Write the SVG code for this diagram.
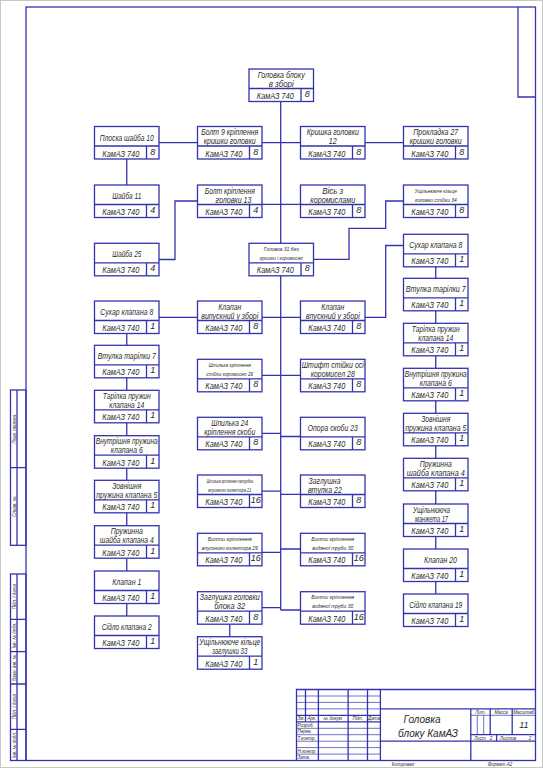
<svg xmlns="http://www.w3.org/2000/svg" xmlns:xlink="http://www.w3.org/1999/xlink" width="543" height="768" viewBox="0 0 543 768">
<style>
.ln{fill:none;stroke:#3333b0;stroke-width:1.3}
.th{fill:none;stroke:#3333b0;stroke-width:0.7}
.cn{fill:none;stroke:#3333b0;stroke-width:1.3}
text{font-family:'Liberation Sans',Arial,sans-serif;font-style:italic;fill:#2a2a2a}
.nm{font-size:9px;text-anchor:middle}
.sm{font-size:5.5px;text-anchor:middle}
.km{font-size:9px;text-anchor:middle}
.q{font-size:9px;text-anchor:middle}
.tb{font-size:4.5px}
.tc{font-size:4.5px;text-anchor:middle}
</style>
<defs>
<g id="bx"><rect class="ln" x="0" y="0" width="64.5" height="32.5"/><path class="ln" d="M0 19.5H64.5M52 19.5V32.5"/></g>
</defs>
<rect x="0.5" y="0.5" width="542" height="767" fill="#fff" stroke="#c8c8c8" stroke-width="1"/>
<g id="frame">
<rect class="ln" x="26" y="7" width="509.5" height="753.5"/>
<path class="ln" d="M518 7V97H535.5"/>
<rect class="ln" x="10.5" y="390" width="15.5" height="155.3"/>
<path class="ln" d="M17 390V545.3M10.5 467.7H26"/>
<rect class="ln" x="10.5" y="574" width="15.5" height="186.5"/>
<path class="ln" d="M17 574V760.5M10.5 619.3H26M10.5 651.7H26M10.5 684H26M10.5 729.3H26"/>
<text class="tc" transform="translate(15.5,428.8) rotate(-90)">Перв. примен.</text>
<text class="tc" transform="translate(15.5,506.5) rotate(-90)">Справ. №</text>
<text class="tc" transform="translate(15.5,596.6) rotate(-90)">Підп. і дата</text>
<text class="tc" transform="translate(15.5,635.5) rotate(-90)">Інв. № дубл.</text>
<text class="tc" transform="translate(15.5,667.8) rotate(-90)">Взам. інв. №</text>
<text class="tc" transform="translate(15.5,706.6) rotate(-90)">Підп. і дата</text>
<text class="tc" transform="translate(15.5,745) rotate(-90)">Інв. № подл.</text>
</g>
<g id="titleblock">
<path class="ln" d="M296.5 760.5V689.5H535.5"/>
<path class="ln" d="M305.5 689.5V721.8M318.4 689.5V760.5M348.1 689.5V760.5M367.5 689.5V760.5M380.4 689.5V760.5"/>
<path class="th" d="M296.5 696H380.4M296.5 702.4H380.4M296.5 708.9H380.4M296.5 728.3H380.4M296.5 734.7H380.4M296.5 741.2H380.4M296.5 747.6H380.4M296.5 754.1H380.4"/>
<path class="ln" d="M296.5 715.3H380.4M296.5 721.8H380.4"/>
<path class="ln" d="M380.4 708.9H535.5M380.4 741.2H535.5M470.8 708.9V760.5M470.8 734.7H535.5M490.2 708.9V734.7M512.2 708.9V734.7M496.6 734.7V741.2"/>
<path class="th" d="M470.8 715.3H535.5M477.3 715.3V734.7M483.7 715.3V734.7"/>
<text class="tc" x="301" y="720.3">Зм.</text>
<text class="tc" x="312" y="720.3">Арк.</text>
<text class="tc" x="333.2" y="720.3">№ докум.</text>
<text class="tc" x="357.8" y="720.3">Підп.</text>
<text class="tc" x="374" y="720.3">Дата</text>
<text class="tb" x="297.5" y="726.8">Розроб.</text>
<text class="tb" x="297.5" y="733.2">Перев.</text>
<text class="tb" x="297.5" y="739.7">Т.контр.</text>
<text class="tb" x="297.5" y="752.6">Н.контр.</text>
<text class="tb" x="297.5" y="759">Затв.</text>
<text x="422" y="723" style="font-size:10px;text-anchor:middle">Головка</text>
<text x="428" y="737" style="font-size:10px;text-anchor:middle">блоку КамАЗ</text>
<text class="tc" x="480.5" y="713.8">Лит.</text>
<text class="tc" x="501.2" y="713.8">Масса</text>
<text class="tc" x="523.8" y="713.8">Масштаб</text>
<text x="523.8" y="728" style="font-size:9px;text-anchor:middle">11</text>
<text class="tc" x="480" y="739.8">Лист</text>
<text class="tc" x="491" y="739.8">2</text>
<text class="tc" x="508" y="739.8">Листов</text>
<text class="tc" x="530" y="739.8">2</text>
<text class="tc" x="403" y="766.3">Копировал</text>
<text class="tc" x="500" y="766.3">Формат  А2</text>
</g>
<g id="connectors">
<path class="cn" d="M280.7 101.5V243.3M280.7 275.8V610"/>
<path class="cn" d="M159 142.7H197.5M262 142.7H300.5M365 142.7H403.5"/>
<path class="cn" d="M126.75 159V185"/>
<path class="cn" d="M197.5 201H175V259.5H159M262 204.3H300.5"/>
<path class="cn" d="M403.5 201H385.7V228.3H349V259.3H313.5"/>
<path class="cn" d="M159 317.3H197.5M262 317.3H300.5M365 317.3H385.7V245.5H403.5"/>
<path class="cn" d="M126.75 333.5V345.3M126.75 377.8V390.3M126.75 422.8V435.7M126.75 468.2V480.3M126.75 512.8V525.7M126.75 558.2V571M126.75 603.5V616"/>
<path class="cn" d="M435.75 266.8V278.3M435.75 310.8V323.3M435.75 355.8V368.3M435.75 400.8V413.3M435.75 445.8V458.3M435.75 490.8V504M435.75 536.5V549M435.75 581.5V594"/>
<path class="cn" d="M262 375.3H300.5M262 433.3H280.7M280.7 436.5H300.5M262 491.2H280.7M280.7 494.3H300.5M262 552.3H280.7M280.7 549H300.5M262 607.7H280.7M280.7 610H300.5"/>
<path class="cn" d="M229.75 624.2V636.7"/>
</g>
<g id="n01" transform="translate(249,69)"><use href="#bx"/><text class="nm" x="32.25" y="8.7" textLength="47" lengthAdjust="spacingAndGlyphs">Головка блоку</text><text class="nm" x="32.25" y="17.5" textLength="25" lengthAdjust="spacingAndGlyphs">в зборі</text><text class="km" x="26.3" y="30" textLength="37" lengthAdjust="spacingAndGlyphs">КамАЗ 740</text><text class="q" x="58.3" y="28">8</text></g>
<g id="n02" transform="translate(94.5,126.5)"><use href="#bx"/><text class="nm" x="32.25" y="14" textLength="54" lengthAdjust="spacingAndGlyphs">Плоска шайба 10</text><text class="km" x="26.3" y="30" textLength="37" lengthAdjust="spacingAndGlyphs">КамАЗ 740</text><text class="q" x="58.3" y="28">8</text></g>
<g id="n03" transform="translate(197.5,126.5)"><use href="#bx"/><text class="nm" x="32.25" y="8.7" textLength="57" lengthAdjust="spacingAndGlyphs">Болт 9 кріплення</text><text class="nm" x="32.25" y="17.5" textLength="52" lengthAdjust="spacingAndGlyphs">кришки головки</text><text class="km" x="26.3" y="30" textLength="37" lengthAdjust="spacingAndGlyphs">КамАЗ 740</text><text class="q" x="58.3" y="28">8</text></g>
<g id="n04" transform="translate(300.5,126.5)"><use href="#bx"/><text class="nm" x="32.25" y="8.7" textLength="52" lengthAdjust="spacingAndGlyphs">Кришка головки</text><text class="nm" x="32.25" y="17.5" textLength="8" lengthAdjust="spacingAndGlyphs">12</text><text class="km" x="26.3" y="30" textLength="37" lengthAdjust="spacingAndGlyphs">КамАЗ 740</text><text class="q" x="58.3" y="28">8</text></g>
<g id="n05" transform="translate(403.5,126.5)"><use href="#bx"/><text class="nm" x="32.25" y="8.7" textLength="45" lengthAdjust="spacingAndGlyphs">Прокладка 27</text><text class="nm" x="32.25" y="17.5" textLength="52" lengthAdjust="spacingAndGlyphs">кришки головки</text><text class="km" x="26.3" y="30" textLength="37" lengthAdjust="spacingAndGlyphs">КамАЗ 740</text><text class="q" x="58.3" y="28">8</text></g>
<g id="n06" transform="translate(94.5,185)"><use href="#bx"/><text class="nm" x="32.25" y="14" textLength="29" lengthAdjust="spacingAndGlyphs">Шайба 11</text><text class="km" x="26.3" y="30" textLength="37" lengthAdjust="spacingAndGlyphs">КамАЗ 740</text><text class="q" x="58.3" y="28">4</text></g>
<g id="n07" transform="translate(197.5,185)"><use href="#bx"/><text class="nm" x="32.25" y="8.7" textLength="50" lengthAdjust="spacingAndGlyphs">Болт кріплення</text><text class="nm" x="36" y="17.5" textLength="36" lengthAdjust="spacingAndGlyphs">головки 13</text><text class="km" x="26.3" y="30" textLength="37" lengthAdjust="spacingAndGlyphs">КамАЗ 740</text><text class="q" x="58.3" y="28">4</text></g>
<g id="n08" transform="translate(300.5,185)"><use href="#bx"/><text class="nm" x="32.25" y="8.7" textLength="21" lengthAdjust="spacingAndGlyphs">Вісь з</text><text class="nm" x="32.25" y="17.5" textLength="45" lengthAdjust="spacingAndGlyphs">коромислами</text><text class="km" x="26.3" y="30" textLength="37" lengthAdjust="spacingAndGlyphs">КамАЗ 740</text><text class="q" x="58.3" y="28">8</text></g>
<g id="n09" transform="translate(403.5,185)"><use href="#bx"/><text class="sm" x="32.25" y="7.5" textLength="42" lengthAdjust="spacingAndGlyphs">Ущільнююче кільце</text><text class="sm" x="32.25" y="16.5" textLength="42" lengthAdjust="spacingAndGlyphs">головки стійки 34</text><text class="km" x="26.3" y="30" textLength="37" lengthAdjust="spacingAndGlyphs">КамАЗ 740</text><text class="q" x="58.3" y="28">8</text></g>
<g id="n10" transform="translate(94.5,243.3)"><use href="#bx"/><text class="nm" x="32.25" y="14" textLength="29" lengthAdjust="spacingAndGlyphs">Шайба 25</text><text class="km" x="26.3" y="30" textLength="37" lengthAdjust="spacingAndGlyphs">КамАЗ 740</text><text class="q" x="58.3" y="28">4</text></g>
<g id="n11" transform="translate(249,243.3)"><use href="#bx"/><text class="sm" x="32.25" y="7.5" textLength="35" lengthAdjust="spacingAndGlyphs">Головка 31 без</text><text class="sm" x="32.25" y="16.5" textLength="43" lengthAdjust="spacingAndGlyphs">кришки і коромисел</text><text class="km" x="26.3" y="30" textLength="37" lengthAdjust="spacingAndGlyphs">КамАЗ 740</text><text class="q" x="58.3" y="28">8</text></g>
<g id="n12" transform="translate(94.5,301)"><use href="#bx"/><text class="nm" x="32.25" y="14" textLength="53" lengthAdjust="spacingAndGlyphs">Сухар клапана 8</text><text class="km" x="26.3" y="30" textLength="37" lengthAdjust="spacingAndGlyphs">КамАЗ 740</text><text class="q" x="58.3" y="28">1</text></g>
<g id="n13" transform="translate(94.5,345.3)"><use href="#bx"/><text class="nm" x="32.25" y="14" textLength="58" lengthAdjust="spacingAndGlyphs">Втулка тарілки 7</text><text class="km" x="26.3" y="30" textLength="37" lengthAdjust="spacingAndGlyphs">КамАЗ 740</text><text class="q" x="58.3" y="28">1</text></g>
<g id="n14" transform="translate(94.5,390.3)"><use href="#bx"/><text class="nm" x="32.25" y="8.7" textLength="48" lengthAdjust="spacingAndGlyphs">Тарілка пружин</text><text class="nm" x="32.25" y="17.5" textLength="35" lengthAdjust="spacingAndGlyphs">клапана 14</text><text class="km" x="26.3" y="30" textLength="37" lengthAdjust="spacingAndGlyphs">КамАЗ 740</text><text class="q" x="58.3" y="28">1</text></g>
<g id="n15" transform="translate(94.5,435.7)"><use href="#bx"/><text class="nm" x="32.25" y="8.7" textLength="62" lengthAdjust="spacingAndGlyphs">Внутрішня пружина</text><text class="nm" x="32.25" y="17.5" textLength="32" lengthAdjust="spacingAndGlyphs">клапана 6</text><text class="km" x="26.3" y="30" textLength="37" lengthAdjust="spacingAndGlyphs">КамАЗ 740</text><text class="q" x="58.3" y="28">1</text></g>
<g id="n16" transform="translate(94.5,480.3)"><use href="#bx"/><text class="nm" x="32.25" y="8.7" textLength="29" lengthAdjust="spacingAndGlyphs">Зовнішня</text><text class="nm" x="32.25" y="17.5" textLength="61" lengthAdjust="spacingAndGlyphs">пружина клапана 5</text><text class="km" x="26.3" y="30" textLength="37" lengthAdjust="spacingAndGlyphs">КамАЗ 740</text><text class="q" x="58.3" y="28">1</text></g>
<g id="n17" transform="translate(94.5,525.7)"><use href="#bx"/><text class="nm" x="32.25" y="8.7" textLength="32" lengthAdjust="spacingAndGlyphs">Пружинна</text><text class="nm" x="32.25" y="17.5" textLength="54" lengthAdjust="spacingAndGlyphs">шайба клапана 4</text><text class="km" x="26.3" y="30" textLength="37" lengthAdjust="spacingAndGlyphs">КамАЗ 740</text><text class="q" x="58.3" y="28">1</text></g>
<g id="n18" transform="translate(94.5,571)"><use href="#bx"/><text class="nm" x="32.25" y="14" textLength="29" lengthAdjust="spacingAndGlyphs">Клапан 1</text><text class="km" x="26.3" y="30" textLength="37" lengthAdjust="spacingAndGlyphs">КамАЗ 740</text><text class="q" x="58.3" y="28">1</text></g>
<g id="n19" transform="translate(94.5,616)"><use href="#bx"/><text class="nm" x="32.25" y="14" textLength="50" lengthAdjust="spacingAndGlyphs">Сідло клапана 2</text><text class="km" x="26.3" y="30" textLength="37" lengthAdjust="spacingAndGlyphs">КамАЗ 740</text><text class="q" x="58.3" y="28">1</text></g>
<g id="n20" transform="translate(197.5,301)"><use href="#bx"/><text class="nm" x="32.25" y="8.7" textLength="23" lengthAdjust="spacingAndGlyphs">Клапан</text><text class="nm" x="32.25" y="17.5" textLength="57" lengthAdjust="spacingAndGlyphs">випускний у зборі</text><text class="km" x="26.3" y="30" textLength="37" lengthAdjust="spacingAndGlyphs">КамАЗ 740</text><text class="q" x="58.3" y="28">8</text></g>
<g id="n21" transform="translate(197.5,359.3)"><use href="#bx"/><text class="sm" x="32.25" y="7.5" textLength="42" lengthAdjust="spacingAndGlyphs">Шпилька кріплення</text><text class="sm" x="32.25" y="16.5" textLength="47" lengthAdjust="spacingAndGlyphs">стійки коромисел 26</text><text class="km" x="26.3" y="30" textLength="37" lengthAdjust="spacingAndGlyphs">КамАЗ 740</text><text class="q" x="58.3" y="28">8</text></g>
<g id="n22" transform="translate(197.5,417.3)"><use href="#bx"/><text class="nm" x="32.25" y="8.7" textLength="37" lengthAdjust="spacingAndGlyphs">Шпилька 24</text><text class="nm" x="32.25" y="17.5" textLength="51" lengthAdjust="spacingAndGlyphs">кріплення скоби</text><text class="km" x="26.3" y="30" textLength="37" lengthAdjust="spacingAndGlyphs">КамАЗ 740</text><text class="q" x="58.3" y="28">8</text></g>
<g id="n23" transform="translate(197.5,475)"><use href="#bx"/><text class="sm" x="32.25" y="7.5" textLength="46" lengthAdjust="spacingAndGlyphs">Шпилька кріплення патрубка</text><text class="sm" x="32.25" y="16.5" textLength="43" lengthAdjust="spacingAndGlyphs">впускного колектора 21</text><text class="km" x="26.3" y="30" textLength="37" lengthAdjust="spacingAndGlyphs">КамАЗ 740</text><text class="q" x="58.3" y="28">16</text></g>
<g id="n24" transform="translate(197.5,533.3)"><use href="#bx"/><text class="sm" x="32.25" y="7.5" textLength="44" lengthAdjust="spacingAndGlyphs">Болти кріплення</text><text class="sm" x="32.25" y="16.5" textLength="56" lengthAdjust="spacingAndGlyphs">впускного колектора 29</text><text class="km" x="26.3" y="30" textLength="37" lengthAdjust="spacingAndGlyphs">КамАЗ 740</text><text class="q" x="58.3" y="28">16</text></g>
<g id="n25" transform="translate(197.5,591.7)"><use href="#bx"/><text class="nm" x="32.25" y="8.7" textLength="60" lengthAdjust="spacingAndGlyphs">Заглушка головки</text><text class="nm" x="32.25" y="17.5" textLength="31" lengthAdjust="spacingAndGlyphs">блока 32</text><text class="km" x="26.3" y="30" textLength="37" lengthAdjust="spacingAndGlyphs">КамАЗ 740</text><text class="q" x="58.3" y="28">8</text></g>
<g id="n26" transform="translate(197.5,636.7)"><use href="#bx"/><text class="nm" x="32.25" y="8.7" textLength="61" lengthAdjust="spacingAndGlyphs">Ущільнююче кільце</text><text class="nm" x="32.25" y="17.5" textLength="35" lengthAdjust="spacingAndGlyphs">заглушки 33</text><text class="km" x="26.3" y="30" textLength="37" lengthAdjust="spacingAndGlyphs">КамАЗ 740</text><text class="q" x="58.3" y="28">1</text></g>
<g id="n27" transform="translate(300.5,301)"><use href="#bx"/><text class="nm" x="32.25" y="8.7" textLength="23" lengthAdjust="spacingAndGlyphs">Клапан</text><text class="nm" x="32.25" y="17.5" textLength="54" lengthAdjust="spacingAndGlyphs">впускний у зборі</text><text class="km" x="26.3" y="30" textLength="37" lengthAdjust="spacingAndGlyphs">КамАЗ 740</text><text class="q" x="58.3" y="28">8</text></g>
<g id="n28" transform="translate(300.5,359.3)"><use href="#bx"/><text class="nm" x="32.25" y="8.7" textLength="62" lengthAdjust="spacingAndGlyphs">Штифт стійки осі</text><text class="nm" x="32.25" y="17.5" textLength="44" lengthAdjust="spacingAndGlyphs">коромисел 28</text><text class="km" x="26.3" y="30" textLength="37" lengthAdjust="spacingAndGlyphs">КамАЗ 740</text><text class="q" x="58.3" y="28">8</text></g>
<g id="n29" transform="translate(300.5,417.3)"><use href="#bx"/><text class="nm" x="32.25" y="14" textLength="50" lengthAdjust="spacingAndGlyphs">Опора скоби 23</text><text class="km" x="26.3" y="30" textLength="37" lengthAdjust="spacingAndGlyphs">КамАЗ 740</text><text class="q" x="58.3" y="28">8</text></g>
<g id="n30" transform="translate(300.5,475)"><use href="#bx"/><text class="nm" x="24" y="8.7" textLength="32" lengthAdjust="spacingAndGlyphs">Заглушна</text><text class="nm" x="24.5" y="17.5" textLength="34" lengthAdjust="spacingAndGlyphs">втулка 22</text><text class="km" x="26.3" y="30" textLength="37" lengthAdjust="spacingAndGlyphs">КамАЗ 740</text><text class="q" x="58.3" y="28">8</text></g>
<g id="n31" transform="translate(300.5,533.3)"><use href="#bx"/><text class="sm" x="32.25" y="7.5" textLength="43" lengthAdjust="spacingAndGlyphs">Болти кріплення</text><text class="sm" x="32.25" y="16.5" textLength="41" lengthAdjust="spacingAndGlyphs">водяної труби 30</text><text class="km" x="26.3" y="30" textLength="37" lengthAdjust="spacingAndGlyphs">КамАЗ 740</text><text class="q" x="58.3" y="28">16</text></g>
<g id="n32" transform="translate(300.5,591.7)"><use href="#bx"/><text class="sm" x="32.25" y="7.5" textLength="43" lengthAdjust="spacingAndGlyphs">Болти кріплення</text><text class="sm" x="32.25" y="16.5" textLength="41" lengthAdjust="spacingAndGlyphs">водяної труби 30</text><text class="km" x="26.3" y="30" textLength="37" lengthAdjust="spacingAndGlyphs">КамАЗ 740</text><text class="q" x="58.3" y="28">16</text></g>
<g id="n33" transform="translate(403.5,234.3)"><use href="#bx"/><text class="nm" x="32.25" y="14" textLength="53" lengthAdjust="spacingAndGlyphs">Сухар клапана 8</text><text class="km" x="26.3" y="30" textLength="37" lengthAdjust="spacingAndGlyphs">КамАЗ 740</text><text class="q" x="58.3" y="28">1</text></g>
<g id="n34" transform="translate(403.5,278.3)"><use href="#bx"/><text class="nm" x="32.25" y="14" textLength="60" lengthAdjust="spacingAndGlyphs">Втулка тарілки 7</text><text class="km" x="26.3" y="30" textLength="37" lengthAdjust="spacingAndGlyphs">КамАЗ 740</text><text class="q" x="58.3" y="28">1</text></g>
<g id="n35" transform="translate(403.5,323.3)"><use href="#bx"/><text class="nm" x="32.25" y="8.7" textLength="48" lengthAdjust="spacingAndGlyphs">Тарілка пружин</text><text class="nm" x="32.25" y="17.5" textLength="35" lengthAdjust="spacingAndGlyphs">клапана 14</text><text class="km" x="26.3" y="30" textLength="37" lengthAdjust="spacingAndGlyphs">КамАЗ 740</text><text class="q" x="58.3" y="28">1</text></g>
<g id="n36" transform="translate(403.5,368.3)"><use href="#bx"/><text class="nm" x="32.25" y="8.7" textLength="62" lengthAdjust="spacingAndGlyphs">Внутрішня пружина</text><text class="nm" x="32.25" y="17.5" textLength="32" lengthAdjust="spacingAndGlyphs">клапана 6</text><text class="km" x="26.3" y="30" textLength="37" lengthAdjust="spacingAndGlyphs">КамАЗ 740</text><text class="q" x="58.3" y="28">1</text></g>
<g id="n37" transform="translate(403.5,413.3)"><use href="#bx"/><text class="nm" x="32.25" y="8.7" textLength="29" lengthAdjust="spacingAndGlyphs">Зовнішня</text><text class="nm" x="32.25" y="17.5" textLength="61" lengthAdjust="spacingAndGlyphs">пружина клапана 5</text><text class="km" x="26.3" y="30" textLength="37" lengthAdjust="spacingAndGlyphs">КамАЗ 740</text><text class="q" x="58.3" y="28">1</text></g>
<g id="n38" transform="translate(403.5,458.3)"><use href="#bx"/><text class="nm" x="32.25" y="8.7" textLength="32" lengthAdjust="spacingAndGlyphs">Пружинна</text><text class="nm" x="32.25" y="17.5" textLength="58" lengthAdjust="spacingAndGlyphs">шайба клапана 4</text><text class="km" x="26.3" y="30" textLength="37" lengthAdjust="spacingAndGlyphs">КамАЗ 740</text><text class="q" x="58.3" y="28">1</text></g>
<g id="n39" transform="translate(403.5,504)"><use href="#bx"/><text class="nm" x="28" y="8.7" textLength="37" lengthAdjust="spacingAndGlyphs">Ущільнююча</text><text class="nm" x="28" y="17.5" textLength="33" lengthAdjust="spacingAndGlyphs">манжета 17</text><text class="km" x="26.3" y="30" textLength="37" lengthAdjust="spacingAndGlyphs">КамАЗ 740</text><text class="q" x="58.3" y="28">1</text></g>
<g id="n40" transform="translate(403.5,549)"><use href="#bx"/><text class="nm" x="37" y="14" textLength="33" lengthAdjust="spacingAndGlyphs">Клапан 20</text><text class="km" x="26.3" y="30" textLength="37" lengthAdjust="spacingAndGlyphs">КамАЗ 740</text><text class="q" x="58.3" y="28">1</text></g>
<g id="n41" transform="translate(403.5,594)"><use href="#bx"/><text class="nm" x="32.25" y="14" textLength="53" lengthAdjust="spacingAndGlyphs">Сідло клапана 19</text><text class="km" x="26.3" y="30" textLength="37" lengthAdjust="spacingAndGlyphs">КамАЗ 740</text><text class="q" x="58.3" y="28">1</text></g>
</svg>
